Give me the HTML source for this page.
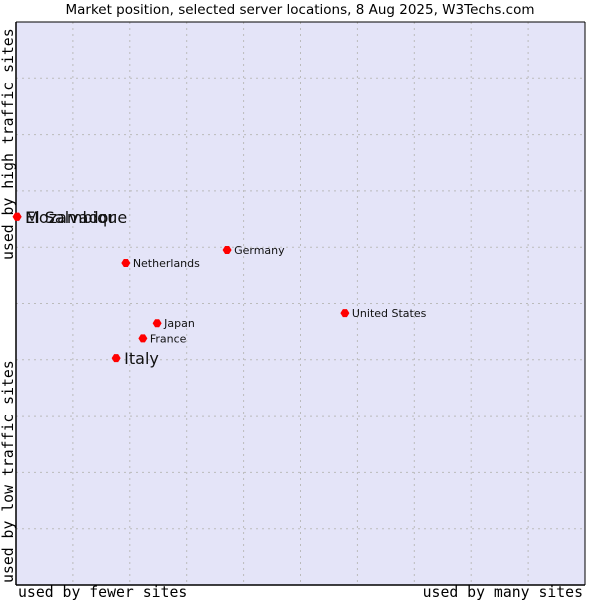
<!DOCTYPE html>
<html><head><meta charset="utf-8"><style>
body{margin:0;background:#fff;width:600px;height:600px;overflow:hidden}
svg{display:block}
</style></head><body>
<svg id="chart" width="600" height="600" xmlns="http://www.w3.org/2000/svg">
<text x="300" y="14" text-anchor="middle" font-family="DejaVu Sans, sans-serif" font-size="13.5" fill="#000">Market position, selected server locations, 8 Aug 2025, W3Techs.com</text>
<rect x="16" y="22" width="569" height="563" fill="#e4e4f8"/>
<g id="grid"></g>
<line x1="16" y1="22" x2="16" y2="585" stroke="#000" stroke-width="1.5"/>
<line x1="16" y1="585" x2="585" y2="585" stroke="#000" stroke-width="1.5"/>
<line x1="16" y1="22" x2="585" y2="22" stroke="#000" stroke-width="1"/>
<line x1="585" y1="22" x2="585" y2="585" stroke="#000" stroke-width="1"/>
<text x="18" y="597" font-family="DejaVu Sans Mono, monospace" font-size="14.8">used by fewer sites</text>
<text x="583" y="597" text-anchor="end" font-family="DejaVu Sans Mono, monospace" font-size="14.8">used by many sites</text>
<text transform="translate(13,583) rotate(-90)" font-family="DejaVu Sans Mono, monospace" font-size="14.8">used by low traffic sites</text>
<text transform="translate(13,260) rotate(-90)" font-family="DejaVu Sans Mono, monospace" font-size="14.8">used by high traffic sites</text>
<g id="points"></g>
</svg>
<script>
const countries = ["El Salvador","Mozambique","Netherlands","Germany","Japan","France","Italy","United States"];
const xValues = [0.2,0.2,19.3,37.1,24.8,22.3,17.6,57.8];
const yValues = [65.4,65.4,57.2,59.5,46.5,43.8,40.3,48.3];
const highlighted = [true,true,false,false,false,false,true,false];
const NS="http://www.w3.org/2000/svg";
const L=16,T=22,W=569,H=563;
const xs=v=>L+v/100*W, ys=v=>T+H-v/100*H;
const grid=document.getElementById('grid');
for(let i=1;i<10;i++){
  const a=document.createElementNS(NS,'line');
  a.setAttribute('x1',L+i*W/10);a.setAttribute('x2',L+i*W/10);a.setAttribute('y1',T);a.setAttribute('y2',T+H);
  a.setAttribute('stroke','#bbb');a.setAttribute('stroke-dasharray','2,4');
  
  
  grid.appendChild(a);
  const b=document.createElementNS(NS,'line');
  b.setAttribute('y1',T+i*H/10);b.setAttribute('y2',T+i*H/10);b.setAttribute('x1',L);b.setAttribute('x2',L+W);
  b.setAttribute('stroke','#bbb');b.setAttribute('stroke-dasharray','2,4');
  
  
  grid.appendChild(b);
}
const pts=document.getElementById('points');
countries.forEach((c,i)=>{
  const x=xs(xValues[i]),y=ys(yValues[i]);
  const d=document.createElementNS(NS,'path');
  d.setAttribute('d',`M${x-4.5},${y} L${x-2},${y-4} L${x+2},${y-4} L${x+4.5},${y} L${x+2},${y+4} L${x-2},${y+4} Z`);
  d.setAttribute('fill','#f00');
  
  
  pts.appendChild(d);
  const t=document.createElementNS(NS,'text');
  const big=highlighted[i];
  t.setAttribute('x',x+(big?8:7));t.setAttribute('y',y+(big?6:4));
  t.setAttribute('font-family','DejaVu Sans, sans-serif');
  t.setAttribute('font-size',big?16:11);
  t.setAttribute('fill','#111');
  t.textContent=c;
  
  
  pts.appendChild(t);
});
</script>
</body></html>
